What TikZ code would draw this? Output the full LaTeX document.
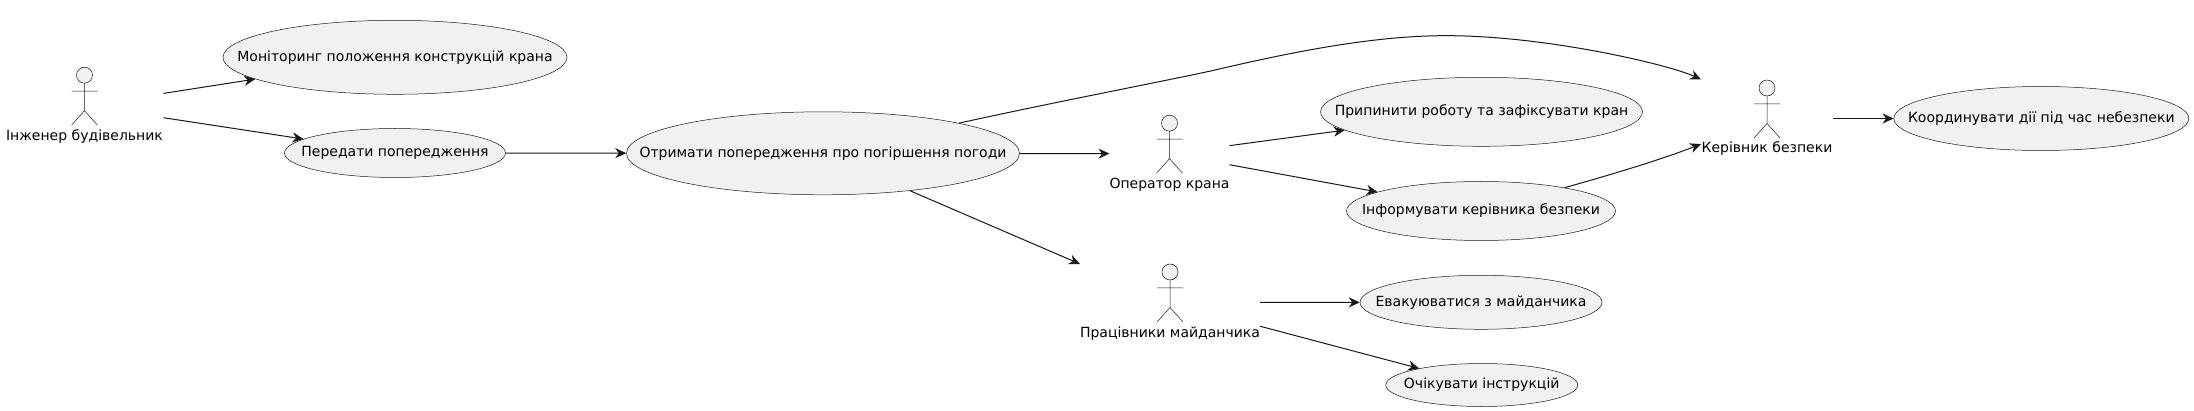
\documentclass[tikz,border=0pt]{standalone}
\usepackage{fontspec}
\setmainfont{DejaVu Sans}
\usetikzlibrary{arrows.meta,positioning,shapes.geometric}

\definecolor{ucfill}{HTML}{F1F1F1}
\definecolor{ucline}{HTML}{181818}
\newcommand{\uctext}[1]{\makebox[0pt]{\raisebox{1.5pt}{#1}}}

\begin{document}
\begin{tikzpicture}[x=1pt,y=-1pt,->,>={Stealth[length=11pt,width=10pt,inset=3.5pt]},line width=1pt,color=ucline,
                    font=\fontsize{14}{16}\selectfont]
  \tikzstyle{usecase}=[ellipse,draw=ucline,fill=ucfill,line width=0.5pt,inner sep=0pt,text=black]
  \tikzstyle{actorbox}=[rectangle,inner sep=0pt,minimum height=77pt]
  \tikzstyle{actorname}=[inner sep=0pt,text height=11pt,text depth=3pt,text=black]
  \tikzstyle{figure}=[-,draw=ucline,line width=0.5pt]

  \useasboundingbox (0,0) rectangle (2194,411);

  \node[actorbox,minimum width=157pt] (eng)   at (84.5,105.7)   {};
  \node[actorbox,minimum width=119pt] (oper)  at (1169.5,153.7) {};
  \node[actorbox,minimum width=179pt] (work)  at (1170,302.5)   {};
  \node[actorbox,minimum width=131pt] (boss)  at (1767,118.5)   {};

  \node[actorname] (engname)  [above=0.7pt of eng.south]  {Інженер будівельник};
  \node[actorname] (opername) [above=0.7pt of oper.south] {Оператор крана};
  \node[actorname] (workname) [above=0.7pt of work.south] {Працівники майданчика};
  \node[actorname] (bossname) [above=1.2pt of boss.south] {Керівник безпеки};

  \foreach \who in {eng,oper,work,boss} {
    \begin{scope}[shift={(\who.center)}]
      \draw[figure,fill=ucfill] (0,-30.5) circle (8pt);
      \draw[figure] (0,-22.5) -- (0,5) (-13,-14.5) -- (13,-14.5)
                    (-13,19.5) -- (0,5) -- (13,19.5);
    \end{scope}
  }

  \node[usecase,minimum width=344pt,minimum height=74pt] (watch)  at (395,57.3)     {\uctext{Моніторинг положення конструкцій крана}};
  \node[usecase,minimum width=221pt,minimum height=49pt] (pass)   at (395,153)      {\uctext{Передати попередження}};
  \node[usecase,minimum width=393pt,minimum height=83pt] (warn)   at (823,153.3)    {\uctext{Отримати попередження про погіршення погоди}};
  \node[usecase,minimum width=322pt,minimum height=69pt] (stop)   at (1481.5,111.8) {\uctext{Припинити роботу та зафіксувати кран}};
  \node[usecase,minimum width=269pt,minimum height=59pt] (inform) at (1481,211)     {\uctext{Інформувати керівника безпеки}};
  \node[usecase,minimum width=242pt,minimum height=54pt] (leave)  at (1481,302.3)   {\uctext{Евакуюватися з майданчика}};
  \node[usecase,minimum width=192pt,minimum height=43pt] (wait)   at (1481.7,385)   {\uctext{Очікувати інструкцій}};
  \node[usecase,minimum width=295pt,minimum height=64pt] (coord)  at (2041.3,118.5) {\uctext{Координувати дії під час небезпеки}};

  \path (eng)  edge (watch)
               edge (pass)
        (pass) edge (warn)
        (warn) edge (oper)
               edge (work)
        (oper) edge (stop)
               edge (inform)
        (work) edge (leave)
               edge (wait)
        (boss) edge (coord);

  \draw (warn) .. controls (1050,103) and (1170,80) .. (1212,70.7)
               .. controls (1300,50) and (1380,35) .. (1450.6,35.7)
               .. controls (1550,36.5) and (1670,65) .. (boss.north west);
  \draw (inform) .. controls (1610,175) and (1660,160) .. (boss);
\end{tikzpicture}
\end{document}
